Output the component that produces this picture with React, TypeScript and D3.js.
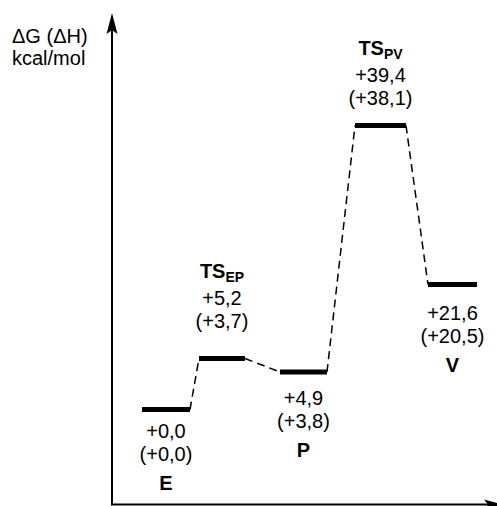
import React from "react";
import * as d3 from "d3";

const states = ["E", "TS_EP", "P", "TS_PV", "V"];
const stateNames = ["E", "TS", "P", "TS", "V"];
const stateSubs = ["", "EP", "", "PV", ""];
const dG = [0.0, 5.2, 4.9, 39.4, 21.6];
const dH = [0.0, 3.7, 3.8, 38.1, 20.5];
const isTS = [false, true, false, true, false];

const W = 497;
const H = 506;
const FONT = "'Liberation Sans', Arial, Helvetica, sans-serif";

// schematic (non-linear) energy axis
const yScale = d3
  .scaleLinear()
  .domain([0, 4.9, 5.2, 21.6, 39.4])
  .range([409.5, 372, 358.5, 284.5, 125.5]);

const xScale = d3
  .scaleLinear()
  .domain([0, 1, 2, 3, 4])
  .range([166, 222, 303.5, 380.5, 452.5]);

const barHalf = [24, 23, 23.5, 25.5, 24.5];
const labelOffset = [28.5, -80.5, 33, -70.5, 35.5];

const fmt = (v: number) => "+" + d3.format(".1f")(v).replace(".", ",");

export default function App() {
  const axisX = 112;
  const axisY = 504.5;
  const bars = states.map((s, i) => ({
    x1: xScale(i) - barHalf[i],
    x2: xScale(i) + barHalf[i],
    y: yScale(dG[i]),
  }));
  const conns = d3.pairs(bars);

  return (
    <svg
      width={W}
      height={H}
      style={{ position: "absolute", left: 0, top: 0, display: "block", background: "#fff" }}
      fontFamily={FONT}
    >
      {/* axes */}
      <line x1={axisX} y1={axisY} x2={axisX} y2={28} stroke="#000" strokeWidth={2} />
      <path d={`M${axisX},13 L${axisX - 5.5},34 L${axisX},30 L${axisX + 5.5},34 Z`} fill="#000" />
      <line x1={axisX - 1} y1={axisY} x2={492} y2={axisY} stroke="#000" strokeWidth={2} />
      <path d={`M503,${axisY} L484,${axisY - 5} L488,${axisY} L484,${axisY + 5} Z`} fill="#000" />

      <text x={12} y={43} fontSize={20} fill="#000">ΔG (ΔH)</text>
      <text x={12} y={65} fontSize={20} fill="#000">kcal/mol</text>

      {/* connectors */}
      {conns.map(([a, b], i) => (
        <line
          key={"c" + i}
          x1={a.x2}
          y1={a.y}
          x2={b.x1}
          y2={b.y}
          stroke="#000"
          strokeWidth={1.5}
          strokeDasharray="8,5"
        />
      ))}

      {/* levels */}
      {bars.map((b, i) => (
        <line
          key={"b" + i}
          x1={b.x1}
          y1={b.y}
          x2={b.x2}
          y2={b.y}
          stroke="#000"
          strokeWidth={5}
        />
      ))}

      {/* labels */}
      {states.map((s, i) => {
        const cx = xScale(i);
        const y0 = bars[i].y + labelOffset[i];
        const name = (
          <text key="n" x={cx} textAnchor="middle" fontSize={20} fontWeight="bold" fill="#000">
            {stateNames[i]}
            {stateSubs[i] ? (
              <tspan fontSize={14} dy={4}>{stateSubs[i]}</tspan>
            ) : null}
          </text>
        );
        if (isTS[i]) {
          return (
            <g key={s}>
              <text x={cx} y={y0} textAnchor="middle" fontSize={20} fontWeight="bold" fill="#000">
                {stateNames[i]}
                <tspan fontSize={14} dy={4}>{stateSubs[i]}</tspan>
              </text>
              <text x={cx} y={y0 + 27} textAnchor="middle" fontSize={20} fill="#000">{fmt(dG[i])}</text>
              <text x={cx} y={y0 + 50} textAnchor="middle" fontSize={20} fill="#000">({fmt(dH[i])})</text>
            </g>
          );
        }
        return (
          <g key={s}>
            <text x={cx} y={y0} textAnchor="middle" fontSize={20} fill="#000">{fmt(dG[i])}</text>
            <text x={cx} y={y0 + 23} textAnchor="middle" fontSize={20} fill="#000">({fmt(dH[i])})</text>
            <text x={cx} y={y0 + 52} textAnchor="middle" fontSize={20} fontWeight="bold" fill="#000">{stateNames[i]}</text>
          </g>
        );
      })}
    </svg>
  );
}
